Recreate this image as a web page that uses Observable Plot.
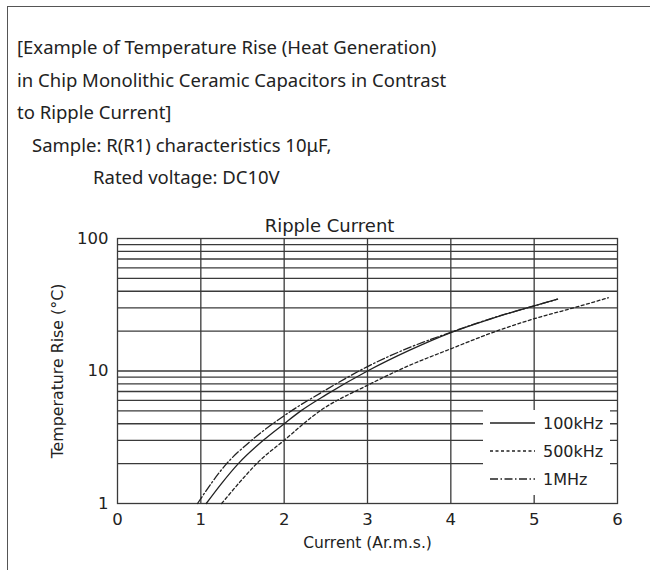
<!DOCTYPE html>
<html>
<head>
<meta charset="utf-8">
<script src="https://cdn.jsdelivr.net/npm/d3@7"></script>
<script src="https://cdn.jsdelivr.net/npm/@observablehq/plot@0.6"></script>
<style>
  html, body { margin: 0; padding: 0; background: #fff; }
  #page { position: relative; width: 650px; height: 570px; overflow: hidden; background: #fff; }
  #frame { position: absolute; left: 7px; top: 6px; width: 660px; height: 600px;
           border-left: 1.5px solid #555; border-top: 1.5px solid #555; }
  .t { position: absolute; font-family: "Noto Sans", sans-serif; font-size: 18.5px; color: #222; white-space: nowrap; line-height: 32px; }
  #chart { position: absolute; left: 0; top: 195px; }
  #legend { position: absolute; left: 483px; top: 410px; width: 127px; height: 85px; background: #fff; }
  #legend svg { position: absolute; left: 0; top: 0; }
</style>
</head>
<body>
<div id="page">
  <div id="frame"></div>
  <div class="t" style="left:17px; top:31px;">[Example of Temperature Rise (Heat Generation)</div>
  <div class="t" style="left:17px; top:64px;">in Chip Monolithic Ceramic Capacitors in Contrast</div>
  <div class="t" style="left:17px; top:96px;">to Ripple Current]</div>
  <div class="t" style="left:32px; top:129px;">Sample: R(R1) characteristics 10μF,</div>
  <div class="t" style="left:93px; top:161px;">Rated voltage: DC10V</div>
  <div id="chart"></div>
  <div id="legend"></div>
</div>
<script>
// ---- data ----
const xTicks = [0, 1, 2, 3, 4, 5, 6];
const yTicks = [1, 10, 100];
const xGrid = [1, 2, 3, 4, 5];
const yGrid = [2, 3, 4, 5, 6, 7, 8, 9, 10, 20, 30, 40, 50, 60, 70, 80, 90];

const series = ["100kHz", "500kHz", "1MHz"];
const dashes = [null, "3,2.5", "8,2.5,1.5,2.5"];

const x100k = [1.065, 1.25, 1.45, 1.75, 2.0, 2.2, 2.5, 3.0, 3.5, 4.0, 4.5, 5.0, 5.28];
const y100k = [1, 1.42, 2, 3, 4, 5, 6.6, 10, 14.3, 19.5, 25.0, 31, 34.8];

const x500k = [1.25, 1.5, 1.67, 2.0, 2.43, 3.0, 3.5, 4.0, 4.5, 5.0, 5.5, 5.89];
const y500k = [1, 1.53, 2, 3, 5, 7.8, 11, 14.7, 19.5, 24.8, 30.3, 35.7];

const x1M = [0.96, 1.31, 1.61, 2.0, 2.5, 3.0, 3.5, 4.0, 4.5, 5.0, 5.28];
const y1M = [1, 2, 3, 4.6, 7.2, 10.8, 15, 19.6, 25.1, 31, 34.8];

const texts = {
  top: "Ripple Current",
  xLabel: "Current (Ar.m.s.)",
  yLabel: "Temperature Rise (°C)"
};

// ---- build ----
const toRows = (xs, ys) => xs.map((x, i) => ({x, y: ys[i]}));
const rows = [toRows(x100k, y100k), toRows(x500k, y500k), toRows(x1M, y1M)];

const ink = "#222";
const gridInk = "#3a3a3a";
const font = "DejaVu Sans, sans-serif";

const lineMarks = rows.map((r, i) => Plot.line(r, {
  x: "x", y: "y", stroke: ink, strokeWidth: 1.3,
  strokeDasharray: dashes[i] || undefined, curve: "monotone-x"
}));

const chart = Plot.plot({
  width: 650, height: 375,
  marginLeft: 117, marginRight: 33, marginTop: 43, marginBottom: 67,
  style: {fontFamily: font, fontSize: "15px", color: ink, background: "transparent", overflow: "visible"},
  x: {domain: [0, 6]},
  y: {type: "log", domain: [1, 100]},
  marks: [
    Plot.gridY(yGrid, {stroke: gridInk, strokeOpacity: 1, strokeWidth: 1.3}),
    Plot.gridX(xGrid, {stroke: gridInk, strokeOpacity: 1, strokeWidth: 1.3}),
    Plot.frame({stroke: gridInk, strokeWidth: 1.3}),
    Plot.axisX(xTicks, {tickSize: 0, tickPadding: 10, label: null, fontSize: 16.5, tickFormat: d => String(d)}),
    Plot.axisY(yTicks, {tickSize: 0, tickPadding: 9, label: null, fontSize: 16.5, tickFormat: d => String(d)}),
    ...lineMarks,
    Plot.text([texts.top], {frameAnchor: "top", dx: -38, dy: -19, fontSize: 18, fill: ink}),
    Plot.text([texts.xLabel], {frameAnchor: "bottom", dy: 44, fontSize: 15.5, fill: ink}),
    Plot.text([texts.yLabel], {frameAnchor: "left", textAnchor: "middle", dx: -60, rotate: -90, fontSize: 15.8, fill: ink})
  ]
});
document.getElementById("chart").appendChild(chart);

// ---- legend ----
const leg = d3.select("#legend").append("svg").attr("width", 127).attr("height", 85);
series.forEach((s, i) => {
  const cy = 13 + i * 28;
  const ln = leg.append("line").attr("x1", 7).attr("x2", 52).attr("y1", cy).attr("y2", cy)
    .attr("stroke", ink).attr("stroke-width", 1.3);
  if (dashes[i]) ln.attr("stroke-dasharray", dashes[i]);
  leg.append("text").attr("x", 60).attr("y", cy).attr("dy", "0.35em")
    .attr("font-family", font).attr("font-size", 16).attr("fill", ink).text(s);
});
</script>
</body>
</html>
